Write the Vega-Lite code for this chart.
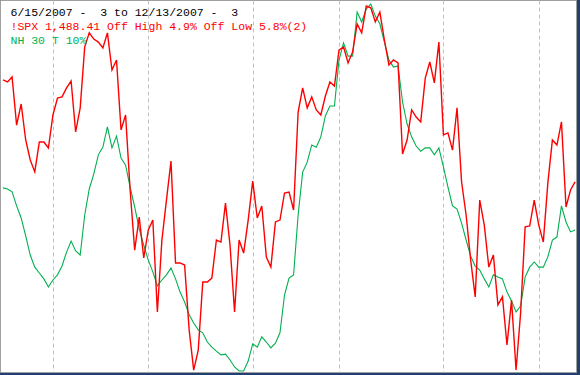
{
  "$schema": "https://vega.github.io/schema/vega-lite/v6.json",
  "width": 576,
  "height": 372,
  "autosize": {"type": "none"},
  "padding": {"left": 0, "top": 0, "right": 4, "bottom": 3},
  "background": "#22406e",
  "config": {"view": {"stroke": "#a0a0a0", "strokeWidth": 1, "fill": "#ffffff"}},
  "datasets": {
    "series": [
      {"d":0,"spx":1532.91,"nh":49.9},{"d":1,"spx":1532.0,"nh":49.6},{"d":2,"spx":1534.2,"nh":48.8},{"d":3,"spx":1513.2,"nh":45.0},
      {"d":4,"spx":1522.4,"nh":41.7},{"d":5,"spx":1506.7,"nh":36.8},{"d":6,"spx":1498.0,"nh":31.6},{"d":7,"spx":1492.8,"nh":28.3},
      {"d":8,"spx":1505.8,"nh":26.7},{"d":9,"spx":1505.8,"nh":25.1},{"d":10,"spx":1503.2,"nh":22.9},{"d":11,"spx":1517.6,"nh":24.8},
      {"d":12,"spx":1525.0,"nh":26.2},{"d":13,"spx":1525.5,"nh":28.6},{"d":14,"spx":1529.4,"nh":32.4},{"d":15,"spx":1532.4,"nh":35.4},
      {"d":16,"spx":1510.2,"nh":32.7},{"d":17,"spx":1520.7,"nh":31.6},{"d":18,"spx":1547.3,"nh":42.5},{"d":19,"spx":1553.4,"nh":49.6},
      {"d":20,"spx":1550.7,"nh":53.7},{"d":21,"spx":1549.4,"nh":58.9},{"d":22,"spx":1546.8,"nh":61.0},{"d":23,"spx":1553.4,"nh":66.5},
      {"d":24,"spx":1537.2,"nh":60.8},{"d":25,"spx":1541.6,"nh":64.0},{"d":26,"spx":1511.1,"nh":58.0},{"d":27,"spx":1517.6,"nh":56.1},
      {"d":28,"spx":1484.9,"nh":50.1},{"d":29,"spx":1458.7,"nh":44.7},{"d":30,"spx":1473.1,"nh":38.7},{"d":31,"spx":1455.3,"nh":34.3},
      {"d":32,"spx":1467.5,"nh":30.2},{"d":33,"spx":1471.8,"nh":27.0},{"d":34,"spx":1431.7,"nh":23.2},{"d":35,"spx":1463.1,"nh":24.8},
      {"d":36,"spx":1480.5,"nh":26.2},{"d":37,"spx":1497.5,"nh":28.1},{"d":38,"spx":1453.1,"nh":25.1},{"d":39,"spx":1453.1,"nh":21.5},
      {"d":40,"spx":1452.2,"nh":18.8},{"d":41,"spx":1423.9,"nh":15.3},{"d":42,"spx":1406.4,"nh":13.1},{"d":43,"spx":1415.1,"nh":11.2},
      {"d":44,"spx":1444.8,"nh":10.4},{"d":45,"spx":1444.8,"nh":7.9},{"d":46,"spx":1446.5,"nh":6.5},{"d":47,"spx":1463.1,"nh":5.4},
      {"d":48,"spx":1462.2,"nh":4.4},{"d":49,"spx":1479.2,"nh":4.6},{"d":50,"spx":1460.9,"nh":3.0},{"d":51,"spx":1431.7,"nh":1.1},
      {"d":52,"spx":1463.1,"nh":0.0},{"d":53,"spx":1457.4,"nh":0.0},{"d":54,"spx":1471.8,"nh":2.7},{"d":55,"spx":1488.8,"nh":7.4},
      {"d":56,"spx":1472.7,"nh":6.5},{"d":57,"spx":1477.9,"nh":9.3},{"d":58,"spx":1455.7,"nh":7.9},{"d":59,"spx":1451.3,"nh":6.3},
      {"d":60,"spx":1471.0,"nh":7.6},{"d":61,"spx":1471.8,"nh":10.4},{"d":62,"spx":1483.6,"nh":20.7},{"d":63,"spx":1484.0,"nh":25.3},
      {"d":64,"spx":1476.2,"nh":26.2},{"d":65,"spx":1518.9,"nh":42.5},{"d":66,"spx":1529.4,"nh":54.2},{"d":67,"spx":1520.7,"nh":56.9},
      {"d":68,"spx":1525.5,"nh":61.6},{"d":69,"spx":1519.8,"nh":61.0},{"d":70,"spx":1517.6,"nh":63.8},{"d":71,"spx":1525.9,"nh":69.5},
      {"d":72,"spx":1532.0,"nh":72.2},{"d":73,"spx":1530.2,"nh":72.2},{"d":74,"spx":1545.9,"nh":84.7},{"d":75,"spx":1547.3,"nh":89.4},
      {"d":76,"spx":1540.3,"nh":85.8},{"d":77,"spx":1545.1,"nh":85.8},{"d":78,"spx":1557.3,"nh":97.8},{"d":79,"spx":1553.4,"nh":95.1},
      {"d":80,"spx":1565.1,"nh":98.6},{"d":81,"spx":1564.3,"nh":100.0},{"d":82,"spx":1558.2,"nh":96.7},{"d":83,"spx":1562.5,"nh":94.6},
      {"d":84,"spx":1550.3,"nh":89.6},{"d":85,"spx":1539.4,"nh":84.7},{"d":86,"spx":1541.6,"nh":82.8},{"d":87,"spx":1540.3,"nh":83.1},
      {"d":88,"spx":1500.6,"nh":73.3},{"d":89,"spx":1506.7,"nh":67.3},{"d":90,"spx":1519.8,"nh":63.8},{"d":91,"spx":1516.7,"nh":61.3},
      {"d":92,"spx":1514.6,"nh":59.9},{"d":93,"spx":1533.7,"nh":60.8},{"d":94,"spx":1540.7,"nh":60.8},{"d":95,"spx":1531.6,"nh":58.9},
      {"d":96,"spx":1549.4,"nh":60.8},{"d":97,"spx":1508.9,"nh":55.6},{"d":98,"spx":1509.8,"nh":50.1},{"d":99,"spx":1502.3,"nh":45.0},
      {"d":100,"spx":1520.7,"nh":44.1},{"d":101,"spx":1488.4,"nh":40.3},{"d":102,"spx":1474.0,"nh":35.7},{"d":103,"spx":1454.4,"nh":31.3},
      {"d":104,"spx":1438.3,"nh":28.6},{"d":105,"spx":1480.5,"nh":27.5},{"d":106,"spx":1469.6,"nh":25.1},{"d":107,"spx":1451.3,"nh":22.9},
      {"d":108,"spx":1456.6,"nh":26.2},{"d":109,"spx":1434.8,"nh":25.6},{"d":110,"spx":1438.3,"nh":25.1},{"d":111,"spx":1417.3,"nh":21.5},
      {"d":112,"spx":1436.9,"nh":19.1},{"d":113,"spx":1406.4,"nh":16.1},{"d":114,"spx":1431.3,"nh":17.7},{"d":115,"spx":1468.8,"nh":25.6},
      {"d":116,"spx":1469.2,"nh":28.3},{"d":117,"spx":1480.5,"nh":29.7},{"d":118,"spx":1469.6,"nh":28.3},{"d":119,"spx":1462.2,"nh":28.3},
      {"d":120,"spx":1488.0,"nh":31.1},{"d":121,"spx":1506.7,"nh":35.7},{"d":122,"spx":1504.5,"nh":36.5},{"d":123,"spx":1514.6,"nh":45.0},
      {"d":124,"spx":1477.5,"nh":40.6},{"d":125,"spx":1484.9,"nh":37.9},{"d":126,"spx":1488.41,"nh":38.4}
    ],
    "labels": [
      {"row": 1, "label": "6/15/2007 -\u00a0\u00a03 to 12/13/2007 -\u00a0\u00a03"},
      {"row": 2, "label": "!SPX 1,488.41 Off High 4.9% Off Low 5.8%(2)"},
      {"row": 3, "label": "NH 30 T 10%"}
    ]
  },
  "layer": [
    {
      "data": {"name": "series"},
      "mark": {"type": "line", "color": "#00b050", "strokeWidth": 1.1, "clip": true, "interpolate": "linear"},
      "encoding": {
        "x": {"field": "d", "type": "quantitative", "scale": {"domain": [-0.66, 126.2], "nice": false, "zero": false},
              "axis": {"values": [11, 32, 55, 74, 97, 118], "grid": true, "gridColor": "#c0c0c0", "gridDash": [4, 3], "gridWidth": 1, "labels": false, "ticks": false, "domain": false, "title": null}},
        "y": {"field": "nh", "type": "quantitative", "scale": {"domain": [-0.27, 101.09], "nice": false, "zero": false}, "axis": null}
      }
    },
    {
      "data": {"name": "series"},
      "mark": {"type": "line", "color": "#ff0000", "strokeWidth": 1.4, "clip": true, "interpolate": "linear"},
      "encoding": {
        "x": {"field": "d", "type": "quantitative", "scale": {"domain": [-0.66, 126.2], "nice": false, "zero": false},
              "axis": {"values": [11, 32, 55, 74, 97, 118], "grid": true, "gridColor": "#c0c0c0", "gridDash": [4, 3], "gridWidth": 1, "labels": false, "ticks": false, "domain": false, "title": null}},
        "y": {"field": "spx", "type": "quantitative", "scale": {"domain": [1405.55, 1567.74], "nice": false, "zero": false}, "axis": null}
      }
    },
    {
      "data": {"name": "labels"},
      "mark": {"type": "text", "align": "left", "baseline": "alphabetic", "font": "Liberation Mono", "fontSize": 11.5},
      "encoding": {
        "x": {"datum": 1.65, "type": "quantitative", "scale": {"domain": [-0.66, 126.2], "nice": false, "zero": false},
              "axis": {"values": [11, 32, 55, 74, 97, 118], "grid": true, "gridColor": "#c0c0c0", "gridDash": [4, 3], "gridWidth": 1, "labels": false, "ticks": false, "domain": false, "title": null}},
        "y": {"field": "row", "type": "quantitative", "scale": {"domain": [-0.1818, 26.873], "reverse": true, "nice": false, "zero": false}, "axis": null},
        "text": {"field": "label"},
        "color": {"field": "row", "type": "nominal", "scale": {"domain": [1, 2, 3], "range": ["#000000", "#ff0000", "#00b050"]}, "legend": null}
      }
    }
  ],
  "resolve": {"scale": {"y": "independent"}}
}
